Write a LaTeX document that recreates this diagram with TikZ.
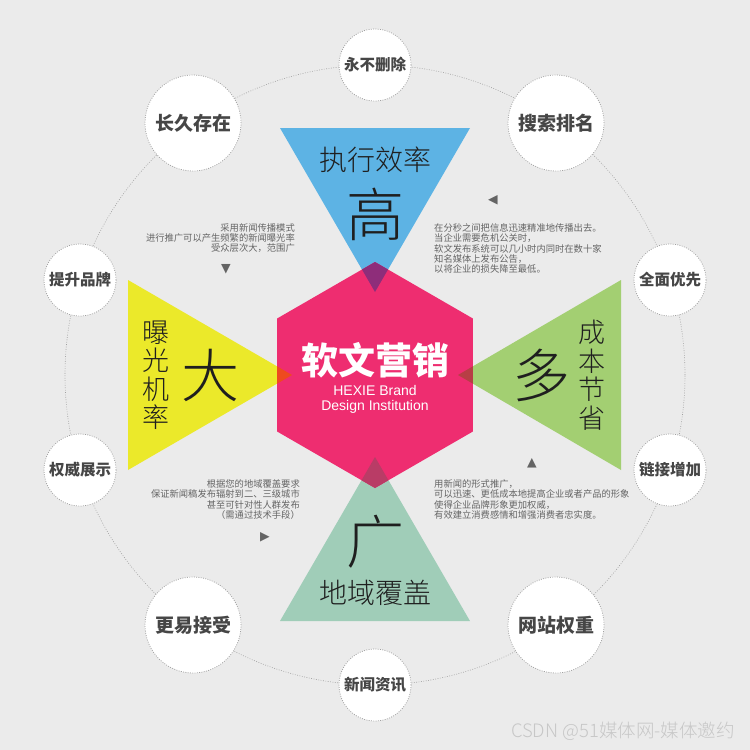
\documentclass[tikz,border=0pt]{standalone}
\usepackage{fontspec}
\setmainfont{Liberation Sans}
\newfontfamily\cjk{Noto Sans CJK SC}
\newfontfamily\cjkl{Noto Sans CJK SC Light}
\newfontfamily\sym{DejaVu Sans}
\usetikzlibrary{positioning, calc}
\definecolor{Cbg}{RGB}{235,235,235}
\definecolor{Chx}{RGB}{238,45,112}
\definecolor{Cbl}{RGB}{93,179,228}
\definecolor{Cye}{RGB}{235,233,42}
\definecolor{Cgr}{RGB}{163,207,114}
\definecolor{Cte}{RGB}{160,205,184}
\definecolor{Obl}{RGB}{142,45,122}
\definecolor{Oye}{RGB}{238,74,31}
\definecolor{Ogr}{RGB}{183,62,69}
\definecolor{Ote}{RGB}{185,60,102}
\definecolor{Ctx}{RGB}{70,70,70}
\definecolor{Csm}{RGB}{100,100,100}
\definecolor{Cdot}{RGB}{160,160,160}
\tikzset{
  R/.style n args={2}{
    circle, draw=Cdot, fill=white, line width=0.75pt,
    dash pattern=on 0.9pt off 1.4pt,
    minimum size=#1, inner sep=0pt,
    font=\cjk\bfseries\fontsize{#2}{#2}\selectfont, text=Ctx
  },
  T/.style n args={1}{
    font=\cjkl\fontsize{#1}{#1}\selectfont, text=black!88,
    inner sep=0pt, align=center
  },
  V/.style={
    font=\cjkl\fontsize{27}{28.5}\selectfont, text=black!88,
    inner sep=0pt, align=center
  },
  P/.style={
    font=\cjk\fontsize{9.3}{10.3}\selectfont, text=Csm, inner sep=0pt
  },
  M/.style={font=\sym\fontsize{12.5}{12.5}\selectfont, text=Csm, inner sep=0pt}
}

\begin{document}
\begin{tikzpicture}[x=1pt, y=-1pt]

% ─────────────────────────────────────────────────────────────────────────────
%  Background
% ─────────────────────────────────────────────────────────────────────────────
\fill[Cbg] (0,0) rectangle (750,750);
\useasboundingbox (0,0) rectangle (750,750);

% ─────────────────────────────────────────────────────────────────────────────
%  Orbit + ring of keywords
% ─────────────────────────────────────────────────────────────────────────────
\node[circle, draw=Cdot, line width=0.6pt, dash pattern=on 0.8pt off 1.6pt,
      minimum size=620pt, inner sep=0pt] (orbit) at (375,375) {};

\node[R={72pt}{15.5}] (forever) at (375, 65)  {永不删除};
\node[R={96pt}{19}]   (search)  at (556,123)  {搜索排名};
\node[R={72pt}{15.5}] (allfst)  at (670,280)  {全面优先};
\node[R={72pt}{15.5}] (links)   at (670,470)  {链接增加};
\node[R={96pt}{19}]   (weight)  at (556,625)  {网站权重};
\node[R={72pt}{15.5}] (news)    at (375,685)  {新闻资讯};
\node[R={96pt}{19}]   (accept)  at (193,625)  {更易接受};
\node[R={72pt}{15.5}] (auth)    at ( 80,470)  {权威展示};
\node[R={72pt}{15.5}] (brandup) at ( 80,280)  {提升品牌};
\node[R={96pt}{19}]   (lasting) at (193,123)  {长久存在};

% ─────────────────────────────────────────────────────────────────────────────
%  Four triangles
% ─────────────────────────────────────────────────────────────────────────────
\fill[Cbl] (280,128) -- (470,128) -- (375,292) -- cycle;
\fill[Cye] (128,280) -- (128,470) -- (292,375) -- cycle;
\fill[Cgr] (621,280) -- (621,470) -- (458,375) -- cycle;
\fill[Cte] (280,621) -- (470,621) -- (375,457) -- cycle;

% ─────────────────────────────────────────────────────────────────────────────
%  Hexagon core, overlaps clipped to it
% ─────────────────────────────────────────────────────────────────────────────
\fill[Chx] (375,262) -- (472.9,318.5) -- (472.9,431.5) -- (375,488)
  -- (277.1,431.5) -- (277.1,318.5) -- cycle;
\begin{scope}
  \clip (375,262) -- (472.9,318.5) -- (472.9,431.5) -- (375,488)
    -- (277.1,431.5) -- (277.1,318.5) -- cycle;
  \fill[Obl] (280,128) -- (470,128) -- (375,292) -- cycle;
  \fill[Oye] (128,280) -- (128,470) -- (292,375) -- cycle;
  \fill[Ogr] (621,280) -- (621,470) -- (458,375) -- cycle;
  \fill[Ote] (280,621) -- (470,621) -- (375,457) -- cycle;
\end{scope}

\node[inner sep=0pt, text=white, font=\cjk\bfseries\fontsize{37}{37}\selectfont]
  (core) at (375,360) {软文营销};
\node[inner sep=0pt, text=white, align=center,
      font=\fontsize{14}{15}\selectfont, below=7pt of core] (brand)
  {HEXIE Brand\\Design Institution};

% ─────────────────────────────────────────────────────────────────────────────
%  Triangle texts
% ─────────────────────────────────────────────────────────────────────────────
\node[T={28}] (effic) at (375,160) {执行效率};
\node[T={58}] (high)  at (375,214) {高};

\node[V]      (expo)  at (156,375) {曝\\光\\机\\率};
\node[T={58}] (big)   at (210,375) {大};

\node[T={58}] (many)  at (541,375) {多};
\node[V]      (cost)  at (592,375) {成\\本\\节\\省};

\node[T={58}] (wide)  at (375,542) {广};
\node[T={28}] (area)  at (375,593) {地域覆盖};

% ─────────────────────────────────────────────────────────────────────────────
%  Notes + markers
% ─────────────────────────────────────────────────────────────────────────────
\node[P, anchor=east, align=right] (noteTL) at (295,238)
  {采用新闻传播模式\\进行推广可以产生频繁的新闻曝光率\\受众层次大，范围广};
\node[M] (mkTL) at (226,269) {▼};

\node[P, anchor=west, align=left] (noteTR) at (434,248.5)
  {在分秒之间把信息迅速精准地传播出去。\\当企业需要危机公关时，\\软文发布系统可以几小时内同时在数十家\\知名媒体上发布公告，\\以将企业的损失降至最低。};
\node[M] (mkTR) at (493,200) {◀};

\node[P, anchor=east, align=right] (noteBL) at (300,499.5)
  {根据您的地域覆盖要求\\保证新闻稿发布辐射到二、三级城市\\甚至可针对性人群发布\\（需通过技术手段）};
\node[M] (mkBL) at (265,537) {▶};

\node[P, anchor=west, align=left] (noteBR) at (434,499.5)
  {用新闻的形式推广，\\可以迅速、更低成本地提高企业或者产品的形象\\使得企业品牌形象更加权威，\\有效建立消费感情和增强消费者忠实度。};
\node[M] (mkBR) at (532,463) {▲};

% watermark
\node[inner sep=0pt, anchor=east, text=black!22,
      font=\cjkl\fontsize{18.5}{18.5}\selectfont] (mark) at (735,731)
  {CSDN @51媒体网-媒体邀约};

\end{tikzpicture}
\end{document}
